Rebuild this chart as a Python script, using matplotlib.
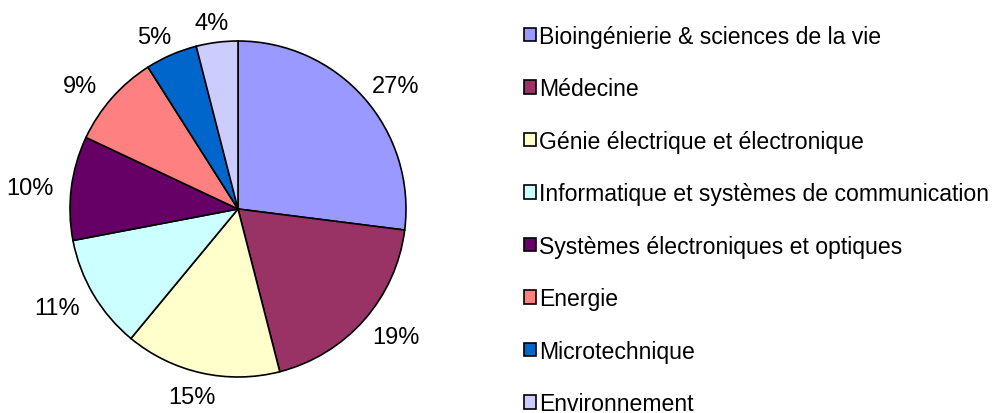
import matplotlib
matplotlib.use("Agg")
import matplotlib.pyplot as plt
import numpy as np

plt.rcParams['font.family'] = ['Liberation Sans', 'DejaVu Sans']

categories = ["Bioingénierie & sciences de la vie", "Médecine",
              "Génie électrique et électronique",
              "Informatique et systèmes de communication",
              "Systèmes électroniques et optiques", "Energie",
              "Microtechnique", "Environnement"]
values = [27, 19, 15, 11, 10, 9, 5, 4]
colors = ["#9999FF", "#993366", "#FFFFCC", "#CCFFFF", "#660066",
          "#FF8080", "#0066CC", "#CCCCFF"]

W, H = 997, 414
FS = 17
LFS = 16.6
fig = plt.figure(figsize=(W / 100, H / 100), dpi=100)
cx, cy, r = 238, 210, 168
ax = fig.add_axes([(cx - r) / W, (H - cy - r) / H, 2 * r / W, 2 * r / H])

wedges, texts, autotexts = ax.pie(
    values, colors=colors, startangle=90, counterclock=False, radius=1,
    autopct=lambda p: f"{p:.0f}%", pctdistance=1.15,
    wedgeprops=dict(edgecolor="black", linewidth=1.2),
    textprops=dict(fontsize=FS, color="black"))

# Excel-style label placement: outside, on an ellipse around the pie
for w, t in zip(wedges, autotexts):
    th = np.deg2rad((w.theta1 + w.theta2) / 2)
    t.set_position((1.25 * np.cos(th), 1.13 * np.sin(th) - 0.05))
    t.set_ha("center")
    t.set_va("baseline")

ax.set_xlim(-1, 1)
ax.set_ylim(-1, 1)
ax.set_aspect("equal")
ax.axis("off")

leg = fig.legend(wedges, categories, loc="upper left",
                 bbox_to_anchor=(515 / W, 1 - 16.5 / H), frameon=False,
                 fontsize=LFS, handlelength=0.53, handleheight=0.53,
                 handletextpad=0.13, labelspacing=1.28, borderaxespad=0)
for h in leg.legend_handles:
    h.set_edgecolor("black")
    h.set_linewidth(1.2)

fig.savefig("out.png", dpi=100)
